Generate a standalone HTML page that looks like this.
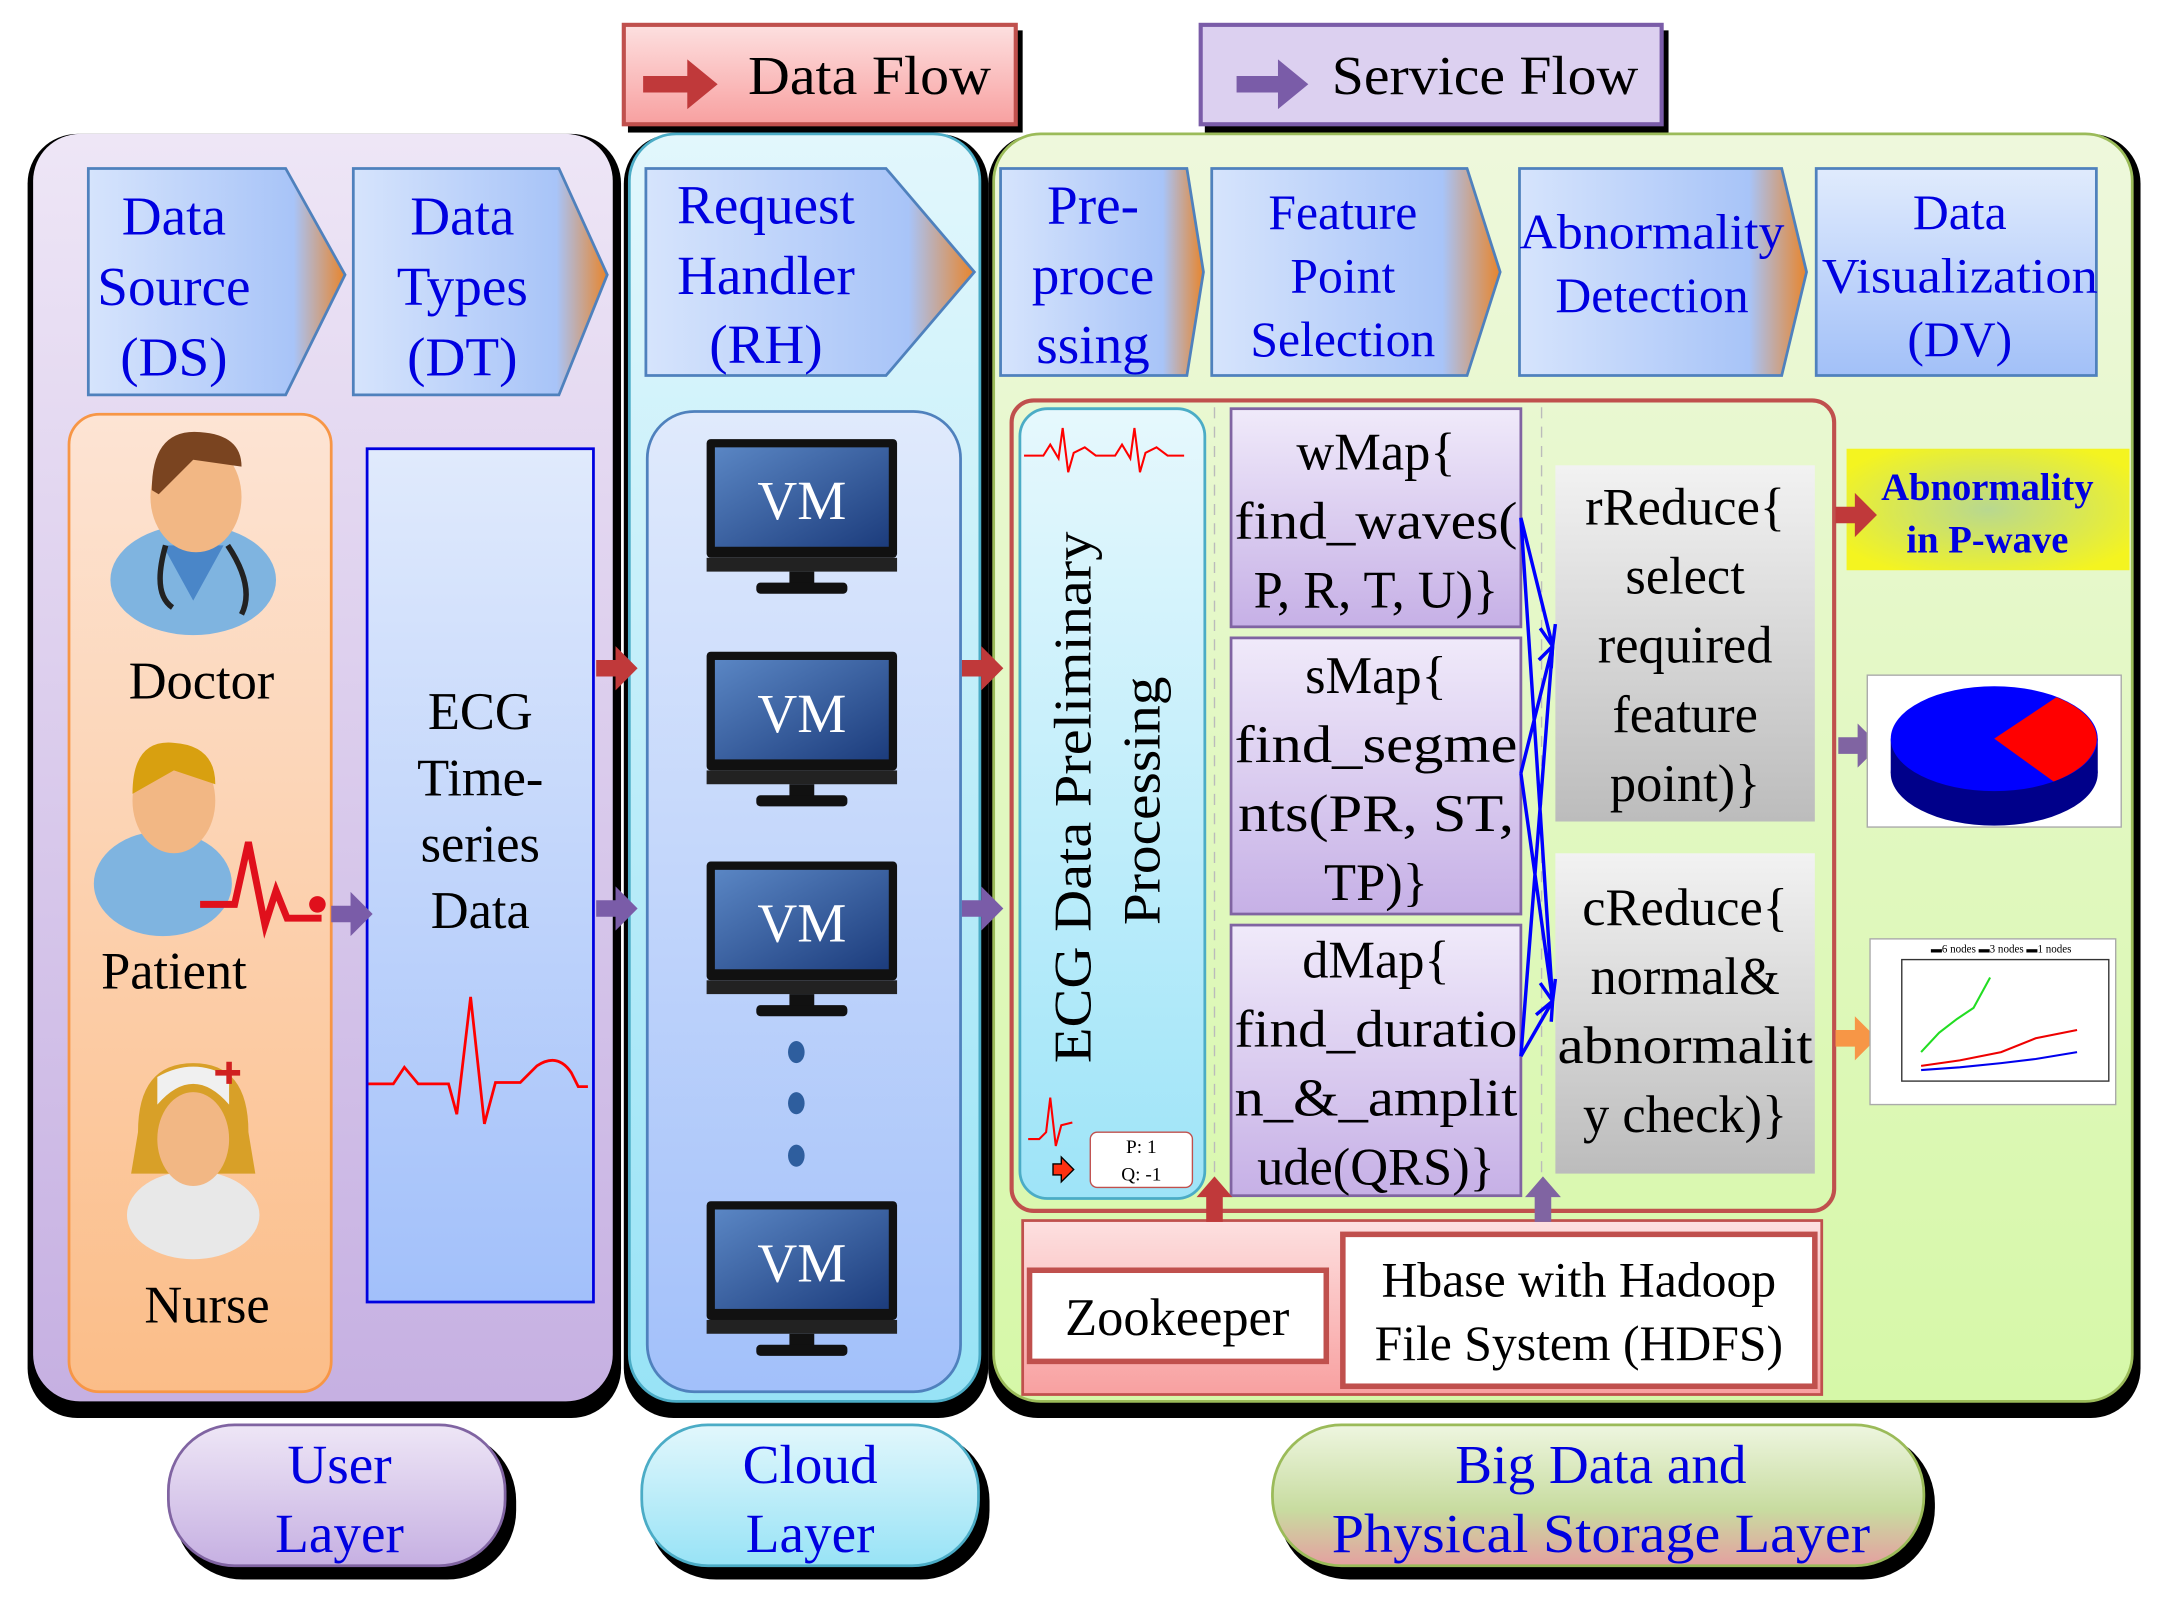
<!DOCTYPE html>
<html><head><meta charset="utf-8"><style>html,body{margin:0;padding:0;background:#fff}svg{display:block}text{font-family:"Liberation Serif",serif}</style></head>
<body>
<svg width="2164" height="1603" viewBox="0 0 1568 1161" preserveAspectRatio="none" xmlns="http://www.w3.org/2000/svg">
<defs>
<linearGradient id="gUser" x1="0" y1="0" x2="0" y2="1"><stop offset="0" stop-color="#eee6f6"/><stop offset="1" stop-color="#c6b0e2"/></linearGradient>
<linearGradient id="gCloud" x1="0" y1="0" x2="0" y2="1"><stop offset="0" stop-color="#e2f7fc"/><stop offset="1" stop-color="#98e3f6"/></linearGradient>
<linearGradient id="gGreen" x1="0" y1="0" x2="0" y2="1"><stop offset="0" stop-color="#eef8dc"/><stop offset="1" stop-color="#d6f8a8"/></linearGradient>
<linearGradient id="gOrange" x1="0" y1="0" x2="0" y2="1"><stop offset="0" stop-color="#fde4d4"/><stop offset="1" stop-color="#fbbd88"/></linearGradient>
<linearGradient id="gBlue" x1="0" y1="0" x2="0" y2="1"><stop offset="0" stop-color="#e0eafc"/><stop offset="1" stop-color="#a2c0fa"/></linearGradient>
<linearGradient id="gChev" x1="0" y1="0" x2="1" y2="0"><stop offset="0" stop-color="#d6e4fc"/><stop offset="0.8" stop-color="#a8c4f8"/><stop offset="1" stop-color="#e8852c"/></linearGradient>
<linearGradient id="gChevB" x1="0" y1="0" x2="0" y2="1"><stop offset="0" stop-color="#e0ebfd"/><stop offset="1" stop-color="#a2c0f8"/></linearGradient>
<linearGradient id="gMap" x1="0" y1="0" x2="0" y2="1"><stop offset="0" stop-color="#f0eafa"/><stop offset="1" stop-color="#c6b0e6"/></linearGradient>
<linearGradient id="gGray" x1="0" y1="0" x2="0" y2="1"><stop offset="0" stop-color="#f2f2f2"/><stop offset="1" stop-color="#bcbcbc"/></linearGradient>
<linearGradient id="gPink" x1="0" y1="0" x2="0" y2="1"><stop offset="0" stop-color="#fde0e0"/><stop offset="1" stop-color="#f8a0a0"/></linearGradient>
<linearGradient id="gCyan" x1="0" y1="0" x2="0" y2="1"><stop offset="0" stop-color="#e6f8fd"/><stop offset="1" stop-color="#9ee4f8"/></linearGradient>
<linearGradient id="gScreen" x1="0" y1="0" x2="1" y2="1"><stop offset="0" stop-color="#5a86c4"/><stop offset="1" stop-color="#1c3c7c"/></linearGradient>
<linearGradient id="gBigLbl" x1="0" y1="0" x2="0" y2="1"><stop offset="0" stop-color="#eef6e0"/><stop offset="0.6" stop-color="#c8dca0"/><stop offset="1" stop-color="#e4a0a0"/></linearGradient>
<radialGradient id="gYel" cx="0.5" cy="0.5" r="0.6"><stop offset="0" stop-color="#b8d890"/><stop offset="1" stop-color="#f4f420"/></radialGradient>
<g id="vm"><rect x="0" y="0" width="138" height="86" rx="3" fill="#111"/><rect x="6" y="6" width="126" height="72" fill="url(#gScreen)"/><rect x="0" y="86" width="138" height="10" fill="#222"/><rect x="60" y="96" width="18" height="10" fill="#111"/><rect x="36" y="104" width="66" height="8" rx="3" fill="#111"/><text x="69" y="58" font-size="40" fill="#fff" text-anchor="middle">VM</text></g>
</defs>

<!-- legend -->
<rect x="455" y="22" width="286" height="74" fill="#000"/>
<rect x="452" y="18" width="284" height="72" fill="url(#gPink)" stroke="#c0504d" stroke-width="3"/>
<path d="M466 55 h32 v-12 l22 18 l-22 18 v-12 h-32z" fill="#c0393a"/>
<text x="630" y="68" font-size="40" text-anchor="middle" textLength="176" lengthAdjust="spacingAndGlyphs">Data Flow</text>
<rect x="873" y="22" width="336" height="74" fill="#000"/>
<rect x="870" y="18" width="334" height="72" fill="#dcd0f0" stroke="#7a5ca8" stroke-width="3"/>
<path d="M896 55 h30 v-12 l22 18 l-22 18 v-12 h-30z" fill="#7a5ca8"/>
<text x="1076" y="68" font-size="40" text-anchor="middle" textLength="222" lengthAdjust="spacingAndGlyphs">Service Flow</text>

<!-- panels -->
<rect x="20" y="97" width="430" height="930" rx="36" fill="#000"/>
<rect x="24" y="97" width="420" height="918" rx="34" fill="url(#gUser)"/>
<rect x="452" y="97" width="264" height="930" rx="36" fill="#000"/>
<rect x="456" y="97" width="254" height="918" rx="34" fill="url(#gCloud)" stroke="#4bacc6" stroke-width="2"/>
<rect x="716" y="97" width="835" height="930" rx="36" fill="#000"/>
<rect x="720" y="97" width="825" height="918" rx="34" fill="url(#gGreen)" stroke="#9bbb59" stroke-width="2"/>

<!-- chevrons -->
<g stroke="#4f81bd" stroke-width="2">
<path d="M64 122 h143 l43 77 l-43 87 h-143z" fill="url(#gChev)"/>
<path d="M256 122 h149 l35 77 l-35 87 h-149z" fill="url(#gChev)"/>
<path d="M468 122 h174 l64 75 l-64 75 h-174z" fill="url(#gChev)"/>
<path d="M725 122 h135 l12 75 l-12 75 h-135z" fill="url(#gChev)"/>
<path d="M878 122 h185 l24 75 l-24 75 h-185z" fill="url(#gChev)"/>
<path d="M1101 122 h190 l18 75 l-18 75 h-190z" fill="url(#gChev)"/>
<path d="M1316 122 h203 v150 h-203z" fill="url(#gChevB)"/>
</g>
<g font-size="40" fill="#0000e0" text-anchor="middle">
<text x="126" y="170">Data</text><text x="126" y="221">Source</text><text x="126" y="272">(DS)</text>
<text x="335" y="170">Data</text><text x="335" y="221">Types</text><text x="335" y="272">(DT)</text>
<text x="555" y="162">Request</text><text x="555" y="213">Handler</text><text x="555" y="263">(RH)</text>
<text x="792" y="162">Pre-</text><text x="792" y="213">proce</text><text x="792" y="263">ssing</text>
<text x="973" y="166" font-size="36">Feature</text><text x="973" y="212" font-size="36">Point</text><text x="973" y="258" font-size="36">Selection</text>
<text x="1197" y="180" font-size="36" textLength="192" lengthAdjust="spacingAndGlyphs">Abnormality</text><text x="1197" y="226" font-size="36">Detection</text>
<text x="1420" y="166" font-size="36">Data</text><text x="1420" y="212" font-size="36" textLength="200" lengthAdjust="spacingAndGlyphs">Visualization</text><text x="1420" y="258" font-size="36">(DV)</text>
</g>

<!-- user layer inner -->
<rect x="50" y="300" width="190" height="708" rx="22" fill="url(#gOrange)" stroke="#f79646" stroke-width="2"/>
<rect x="266" y="325" width="164" height="618" fill="url(#gBlue)" stroke="#0000e0" stroke-width="2"/>
<g font-size="38" text-anchor="middle">
<text x="146" y="506">Doctor</text><text x="126" y="716">Patient</text><text x="150" y="958">Nurse</text>
<text x="348" y="528">ECG</text><text x="348" y="576">Time-</text><text x="348" y="624">series</text><text x="348" y="672">Data</text>
</g>
<!-- doctor -->
<ellipse cx="140" cy="420" rx="60" ry="40" fill="#7fb4e0"/>
<path d="M118 395 l22 40 l22 -40z" fill="#4a86c8"/>
<ellipse cx="142" cy="360" rx="33" ry="40" fill="#f2b784"/>
<path d="M110 355 q0 -45 35 -42 q30 2 30 25 l-35 -5 l-25 25z" fill="#7a4420"/>
<path d="M120 395 q-10 35 5 45 M165 395 q20 30 10 50" stroke="#222" stroke-width="4" fill="none"/>
<!-- patient -->
<ellipse cx="118" cy="640" rx="50" ry="38" fill="#7fb4e0"/>
<ellipse cx="126" cy="580" rx="30" ry="38" fill="#f2b784"/>
<path d="M96 575 q0 -40 30 -37 q30 2 30 30 l-30 -10z" fill="#d8a010"/>
<path d="M145 655 h25 l10 -45 l12 60 l8 -25 l8 20 h25" stroke="#e0101c" stroke-width="5" fill="none"/>
<circle cx="230" cy="655" r="6" fill="#e0101c"/>
<!-- nurse -->
<path d="M100 820 q0 -50 40 -50 q40 0 40 50 l5 30 h-90z" fill="#d8a028"/>
<ellipse cx="140" cy="880" rx="48" ry="32" fill="#e8e8e8"/>
<ellipse cx="140" cy="825" rx="26" ry="34" fill="#f2b784"/>
<path d="M114 800 q26 -30 52 0 v-20 q-26 -15 -52 0z" fill="#f0f0f0"/>
<path d="M156 775 h8 v-6 h4 v6 h6 v4 h-6 v6 h-4 v-6 h-8z" fill="#d02020"/>
<!-- ecg wave -->
<path d="M267 785 h18 l8 -12 l10 12 h22 l6 22 l10 -85 l10 92 l8 -30 h18 l12 -12 q15 -10 25 5 l5 10 h7" stroke="#ff0000" stroke-width="2" fill="none"/>

<!-- cloud inner -->
<rect x="469" y="298" width="227" height="710" rx="34" fill="url(#gBlue)" stroke="#4f81bd" stroke-width="2"/>
<use href="#vm" x="512" y="318"/>
<use href="#vm" x="512" y="472"/>
<use href="#vm" x="512" y="624"/>
<use href="#vm" x="512" y="870"/>
<g fill="#2e5e9e"><ellipse cx="577" cy="762" rx="6" ry="8"/><ellipse cx="577" cy="799" rx="6" ry="8"/><ellipse cx="577" cy="837" rx="6" ry="8"/></g>

<!-- flow arrows -->
<g fill="#c0393a">
<path d="M432 478 h14 v-10 l16 16 l-16 16 v-10 h-14z"/>
<path d="M697 478 h14 v-10 l16 16 l-16 16 v-10 h-14z"/>
</g>
<g fill="#7a5ca8">
<path d="M432 652 h14 v-10 l16 16 l-16 16 v-10 h-14z"/>
<path d="M697 652 h14 v-10 l16 16 l-16 16 v-10 h-14z"/>
<path d="M240 656 h14 v-10 l16 16 l-16 16 v-10 h-14z"/>
</g>

<!-- big data inner -->
<rect x="733" y="290" width="596" height="587" rx="16" fill="none" stroke="#c0504d" stroke-width="3"/>
<line x1="880" y1="295" x2="880" y2="870" stroke="#bbb" stroke-dasharray="8,6"/>
<line x1="1117" y1="295" x2="1117" y2="870" stroke="#bbb" stroke-dasharray="8,6"/>
<rect x="739" y="296" width="134" height="572" rx="20" fill="url(#gCyan)" stroke="#4bacc6" stroke-width="2"/>
<path d="M742 330 h14 l5 -8 l6 10 l3 -22 l4 32 l4 -14 l8 -4 l8 6 h14 l5 -8 l6 10 l3 -22 l4 32 l4 -14 l8 -4 l8 6 h12" stroke="#ff0000" stroke-width="1.5" fill="none"/>
<text transform="translate(790 770) rotate(-90)" font-size="38" textLength="385" lengthAdjust="spacingAndGlyphs">ECG Data Preliminary</text>
<text transform="translate(840 670) rotate(-90)" font-size="38" textLength="180" lengthAdjust="spacingAndGlyphs">Processing</text>
<path d="M745 825 h8 l5 -5 l3 -25 l4 35 l4 -15 l8 -2" stroke="#ff0000" stroke-width="1.5" fill="none"/>
<path d="M763 843 h6 v-5 l9 9 l-9 9 v-5 h-6z" fill="#ff3010" stroke="#000" stroke-width="1"/>
<rect x="790" y="820" width="74" height="40" rx="5" fill="#fff" stroke="#c0504d"/>
<text x="827" y="835" font-size="14" text-anchor="middle">P: 1</text><text x="827" y="855" font-size="14" text-anchor="middle">Q: -1</text>

<g stroke="#8064a2" stroke-width="2" fill="url(#gMap)">
<rect x="892" y="296" width="210" height="158"/><rect x="892" y="462" width="210" height="200"/><rect x="892" y="670" width="210" height="196"/>
</g>
<g font-size="38" text-anchor="middle">
<text x="997" y="340">wMap{</text><text x="997" y="390" textLength="205" lengthAdjust="spacingAndGlyphs">find_waves(</text><text x="997" y="440">P, R, T, U)}</text>
<text x="997" y="502">sMap{</text><text x="997" y="552" textLength="205" lengthAdjust="spacingAndGlyphs">find_segme</text><text x="997" y="602" textLength="200" lengthAdjust="spacingAndGlyphs">nts(PR, ST,</text><text x="997" y="652">TP)}</text>
<text x="997" y="708">dMap{</text><text x="997" y="758" textLength="205" lengthAdjust="spacingAndGlyphs">find_duratio</text><text x="997" y="808" textLength="205" lengthAdjust="spacingAndGlyphs">n_&amp;_amplit</text><text x="997" y="858">ude(QRS)}</text>
</g>
<rect x="1127" y="337" width="188" height="258" fill="url(#gGray)"/>
<rect x="1127" y="618" width="188" height="232" fill="url(#gGray)"/>
<g font-size="38" text-anchor="middle">
<text x="1221" y="380">rReduce{</text><text x="1221" y="430">select</text><text x="1221" y="480">required</text><text x="1221" y="530">feature</text><text x="1221" y="580">point)}</text>
<text x="1221" y="670">cReduce{</text><text x="1221" y="720">normal&amp;</text><text x="1221" y="770" textLength="185" lengthAdjust="spacingAndGlyphs">abnormalit</text><text x="1221" y="820">y check)}</text>
</g>
<g stroke="#0000ff" stroke-width="2.5" fill="none">
<path d="M1102 375 L1125 468 M1102 375 L1125 725 M1102 560 L1125 468 M1102 560 L1125 725 M1102 765 L1125 468 M1102 765 L1125 725"/>
<path d="M1116 455 l9 13 l2 -16 M1115 478 l10 -10 l-1 16 M1116 712 l9 13 l2 -16 M1113 735 l12 -10 l-1 15"/>
</g>

<!-- right side -->
<rect x="1338" y="325" width="205" height="88" fill="url(#gYel)"/>
<text x="1440" y="362" font-size="28" font-weight="bold" fill="#0000e0" text-anchor="middle">Abnormality</text>
<text x="1440" y="400" font-size="28" font-weight="bold" fill="#0000e0" text-anchor="middle">in P-wave</text>
<path d="M1330 367 h14 v-10 l16 16 l-16 16 v-10 h-14z" fill="#c0393a"/>
<path d="M1332 534 h14 v-10 l16 16 l-16 16 v-10 h-14z" fill="#8064a2"/>
<path d="M1330 746 h14 v-10 l16 16 l-16 16 v-10 h-14z" fill="#f79646"/>
<rect x="1353" y="489" width="184" height="110" fill="#fff" stroke="#aaa"/>
<ellipse cx="1445" cy="560" rx="75" ry="38" fill="#00008a"/>
<rect x="1370" y="535" width="150" height="25" fill="#00008a"/>
<ellipse cx="1445" cy="535" rx="75" ry="38" fill="#0000ff"/>
<path d="M1445 535 L1490 505 A75 38 0 0 1 1488 566 Z" fill="#ff0000"/>
<rect x="1355" y="680" width="178" height="120" fill="#fff" stroke="#aaa"/>
<rect x="1378" y="695" width="150" height="88" fill="none" stroke="#333"/>
<polyline points="1392,762 1405,748 1418,738 1430,730 1442,708" stroke="#22dd22" fill="none" stroke-width="1.5"/>
<polyline points="1392,772 1420,768 1450,762 1475,752 1505,746" stroke="#ee0000" fill="none" stroke-width="1.5"/>
<polyline points="1392,775 1420,773 1450,770 1475,767 1505,762" stroke="#0000ee" fill="none" stroke-width="1.5"/>
<text x="1450" y="690" font-size="8" text-anchor="middle" fill="#000">▬6 nodes ▬3 nodes ▬1 nodes</text>

<!-- storage -->
<rect x="741" y="884" width="579" height="126" fill="url(#gPink)" stroke="#c0504d" stroke-width="2"/>
<rect x="746" y="920" width="215" height="66" fill="#fff" stroke="#c0504d" stroke-width="4"/>
<text x="853" y="967" font-size="38" text-anchor="middle">Zookeeper</text>
<rect x="973" y="894" width="342" height="110" fill="#fff" stroke="#c0504d" stroke-width="4"/>
<text x="1144" y="939" font-size="36" text-anchor="middle">Hbase with Hadoop</text>
<text x="1144" y="985" font-size="36" text-anchor="middle">File System (HDFS)</text>
<path d="M874 885 v-18 h-7 l13 -15 l13 15 h-7 v18z" fill="#c0393a"/>
<path d="M1112 885 v-18 h-7 l13 -15 l13 15 h-7 v18z" fill="#8064a2"/>

<!-- bottom labels -->
<rect x="126" y="1037" width="248" height="107" rx="50" fill="#000"/>
<rect x="122" y="1032" width="244" height="102" rx="48" fill="url(#gUser)" stroke="#8064a2" stroke-width="2"/>
<text x="246" y="1074" font-size="40" fill="#0000e0" text-anchor="middle">User</text>
<text x="246" y="1124" font-size="40" fill="#0000e0" text-anchor="middle">Layer</text>
<rect x="469" y="1037" width="248" height="107" rx="50" fill="#000"/>
<rect x="465" y="1032" width="244" height="102" rx="48" fill="url(#gCloud)" stroke="#4bacc6" stroke-width="2"/>
<text x="587" y="1074" font-size="40" fill="#0000e0" text-anchor="middle">Cloud</text>
<text x="587" y="1124" font-size="40" fill="#0000e0" text-anchor="middle">Layer</text>
<rect x="926" y="1037" width="476" height="107" rx="52" fill="#000"/>
<rect x="922" y="1032" width="472" height="102" rx="50" fill="url(#gBigLbl)" stroke="#9bbb59" stroke-width="2"/>
<text x="1160" y="1074" font-size="40" fill="#0000e0" text-anchor="middle">Big Data and</text>
<text x="1160" y="1124" font-size="40" fill="#0000e0" text-anchor="middle" textLength="390" lengthAdjust="spacingAndGlyphs">Physical Storage Layer</text>
</svg>
</body></html>
